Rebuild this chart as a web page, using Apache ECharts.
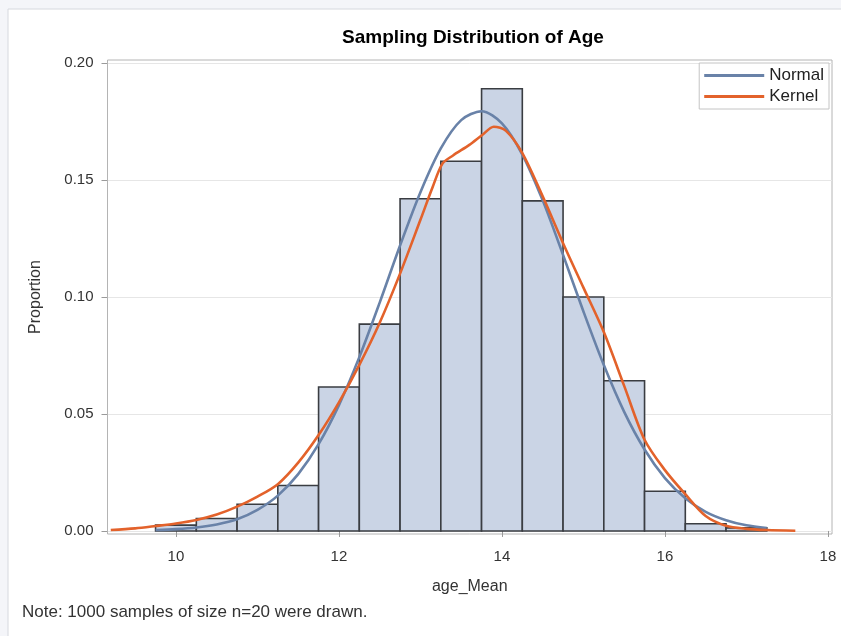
<!DOCTYPE html>
<html>
<head>
<meta charset="utf-8">
<script src="https://cdn.jsdelivr.net/npm/echarts@6/dist/echarts.min.js"></script>
<style>
  html, body { margin: 0; padding: 0; background: #f4f5f9; }
  #chart { width: 841px; height: 636px; }
</style>
</head>
<body>
<div id="chart"></div>
<script>
// ---- data ----
const binWidth = 0.5;
const binCenters = [10, 10.5, 11, 11.5, 12, 12.5, 13, 13.5, 14, 14.5, 15, 15.5, 16, 16.5, 17];
const binProportions = [0.0025, 0.0053, 0.0114, 0.0194, 0.0615, 0.0884, 0.1420, 0.1580, 0.1890, 0.1411, 0.1000, 0.0642, 0.0170, 0.0031, 0.0013];

const normalX = [9.75, 10, 10.25, 10.5, 10.75, 11, 11.25, 11.5, 11.75, 12, 12.25, 12.5, 12.75, 13, 13.25, 13.5, 13.75, 14, 14.25, 14.5, 14.75, 15, 15.25, 15.5, 15.75, 16, 16.25, 16.5, 16.75, 17, 17.25];
const normalY = [0.0004, 0.0008, 0.0015, 0.0028, 0.0050, 0.0090, 0.0151, 0.0243, 0.0371, 0.0538, 0.0743, 0.0976, 0.1220, 0.1448, 0.1635, 0.1756, 0.1794, 0.1742, 0.1609, 0.1413, 0.1180, 0.0938, 0.0709, 0.0509, 0.0348, 0.0226, 0.0140, 0.0082, 0.0046, 0.0024, 0.0012];

const kernelX = [9.2, 9.5, 9.75, 10, 10.25, 10.5, 10.75, 11, 11.25, 11.5, 11.75, 12, 12.25, 12.5, 12.75, 13, 13.15, 13.27, 13.4, 13.6, 13.75, 13.9, 14.05, 14.25, 14.5, 14.75, 15, 15.25, 15.5, 15.75, 16, 16.25, 16.5, 16.75, 17, 17.25, 17.6];
const kernelY = [0.0004, 0.0011, 0.0021, 0.0032, 0.0047, 0.0070, 0.0104, 0.0147, 0.0200, 0.0292, 0.0410, 0.0550, 0.0710, 0.0890, 0.1100, 0.1330, 0.1470, 0.1570, 0.1605, 0.1650, 0.1690, 0.1728, 0.1710, 0.1615, 0.1430, 0.1230, 0.1040, 0.0850, 0.0620, 0.0390, 0.0260, 0.0157, 0.0064, 0.0022, 0.0009, 0.0004, 0.0001];

const xTickValues = [10, 12, 14, 16, 18];
const yTickValues = [0, 0.05, 0.10, 0.15, 0.20];

const titleText = 'Sampling Distribution of Age';
const xAxisTitle = 'age_Mean';
const yAxisTitle = 'Proportion';
const noteText = 'Note: 1000 samples of size n=20 were drawn.';
const seriesNames = ['Normal', 'Kernel'];

// ---- chart ----
const FONT = 'Liberation Sans, Arial, sans-serif';
const chart = echarts.init(document.getElementById('chart'), null, { renderer: 'canvas' });

const histData = binCenters.map((c, i) => [c, binProportions[i]]);
const normalData = normalX.map((x, i) => [x, normalY[i]]);
const kernelData = kernelX.map((x, i) => [x, kernelY[i]]);

const option = {
  animation: false,
  backgroundColor: '#f4f5f9',
  graphic: [
    {
      type: 'rect', z: -10, silent: true,
      shape: { x: 8, y: 9, width: 850, height: 640 },
      style: { fill: '#ffffff', stroke: '#d6d8de', lineWidth: 1 }
    },
    {
      type: 'text', silent: true,
      x: 22, y: 612,
      style: { text: noteText, font: '17px ' + FONT, fill: '#333', textVerticalAlign: 'middle' }
    }
  ],
  title: {
    text: titleText,
    left: 468, top: 23, textAlign: 'center',
    textStyle: { fontFamily: FONT, fontWeight: 'bold', fontSize: 19, color: '#000' }
  },
  legend: {
    data: seriesNames,
    orient: 'vertical',
    right: 12, top: 63,
    icon: 'rect',
    itemWidth: 60, itemHeight: 3, itemGap: 4,
    padding: [4, 5, 4, 5],
    borderColor: '#c4c4c4', borderWidth: 1,
    backgroundColor: '#fff',
    textStyle: { fontFamily: FONT, fontSize: 17, color: '#222' }
  },
  grid: {
    left: 107.5, right: 9, top: 60, bottom: 102,
    show: true, borderColor: '#b4b4b4', borderWidth: 1, backgroundColor: 'transparent'
  },
  xAxis: {
    type: 'value',
    min: 9.16, max: 18.05,
    name: xAxisTitle, nameLocation: 'middle', nameGap: 45,
    nameTextStyle: { fontFamily: FONT, fontSize: 16, color: '#333' },
    axisLine: { show: false },
    axisTick: { show: true, customValues: xTickValues, length: 6, lineStyle: { color: '#9a9a9a' } },
    axisLabel: { customValues: xTickValues, margin: 15, fontFamily: FONT, fontSize: 15, color: '#333' },
    splitLine: { show: false }
  },
  yAxis: {
    type: 'value',
    min: -0.0013, max: 0.2013,
    name: yAxisTitle, nameLocation: 'middle', nameGap: 64,
    nameTextStyle: { fontFamily: FONT, fontSize: 16, color: '#333' },
    axisLine: { show: false },
    axisTick: { show: true, customValues: yTickValues, length: 6, lineStyle: { color: '#9a9a9a' } },
    axisLabel: { customValues: yTickValues, margin: 14, fontFamily: FONT, fontSize: 15, color: '#333',
      formatter: v => v.toFixed(2) },
    splitLine: { show: true, lineStyle: { color: '#e6e6e6', width: 1 } }
  },
  series: [
    {
      name: 'Histogram',
      type: 'custom',
      data: histData,
      encode: { x: 0, y: 1 },
      clip: true,
      z: 1,
      renderItem: function (params, api) {
        const c = api.value(0), v = api.value(1);
        const p0 = api.coord([c - binWidth / 2, v]);
        const p1 = api.coord([c + binWidth / 2, 0]);
        return {
          type: 'rect',
          shape: { x: p0[0], y: p0[1], width: p1[0] - p0[0], height: p1[1] - p0[1] },
          style: { fill: '#cad4e5', stroke: '#3a3d42', lineWidth: 1.6 }
        };
      }
    },
    {
      name: seriesNames[0],
      type: 'line',
      data: normalData,
      smooth: 0.3,
      symbol: 'none',
      z: 3,
      lineStyle: { color: '#6982a8', width: 2.6 },
      itemStyle: { color: '#6982a8' }
    },
    {
      name: seriesNames[1],
      type: 'line',
      data: kernelData,
      smooth: 0.3,
      symbol: 'none',
      z: 4,
      lineStyle: { color: '#e3622b', width: 2.6 },
      itemStyle: { color: '#e3622b' }
    }
  ]
};
chart.setOption(option);
</script>
</body>
</html>
